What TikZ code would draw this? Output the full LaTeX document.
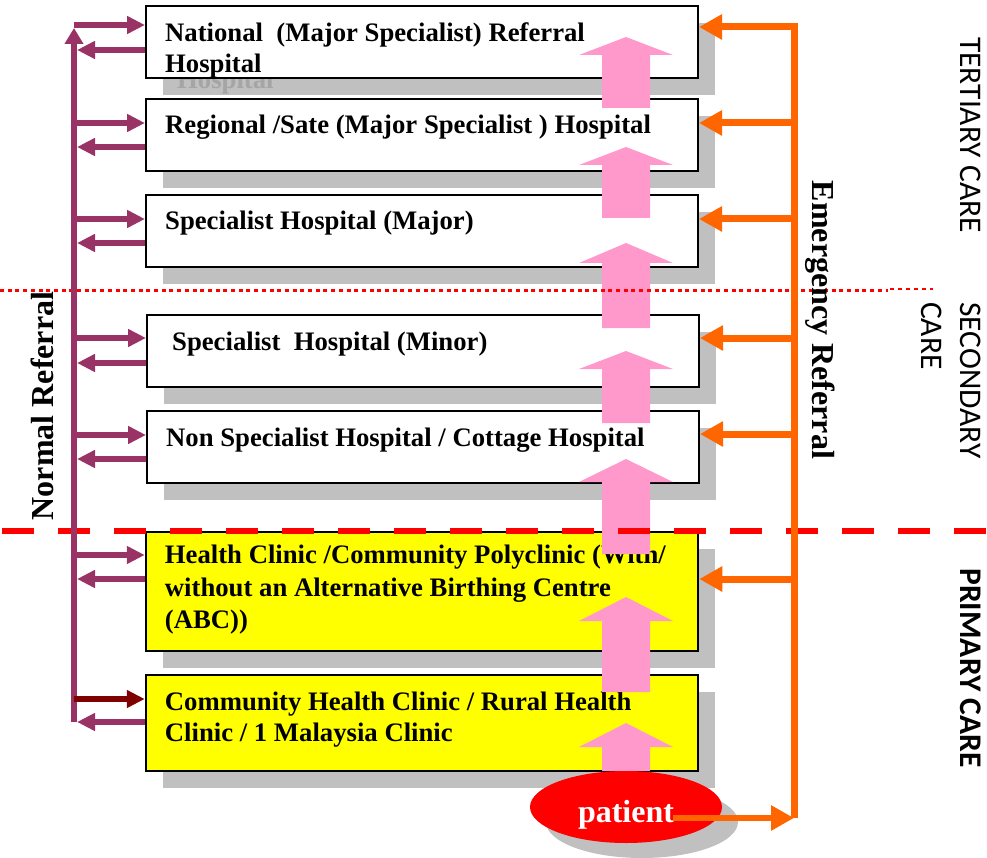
\documentclass[tikz,border=0pt]{standalone}
\usepackage{fontspec}
\setmainfont{Liberation Serif}
\newfontfamily\carefont{Carlito}
\usetikzlibrary{arrows.meta,shapes.geometric,shadows}
\definecolor{nrefcol}{RGB}{153,51,102}
\definecolor{darkref}{RGB}{128,0,0}
\definecolor{erefcol}{RGB}{255,102,0}
\definecolor{pinkup}{RGB}{255,153,204}
\definecolor{shadowgray}{RGB}{192,192,192}
\definecolor{ghostgray}{RGB}{165,165,165}
\definecolor{primyellow}{RGB}{255,255,0}
\begin{document}
\begin{tikzpicture}[x=1pt,y=-1pt,
	level/.style={draw=black,line width=2pt,minimum width=552pt,minimum height=72pt,inner sep=0pt,fill=white,
		drop shadow={shadow xshift=17pt,shadow yshift=-17pt,fill=shadowgray,opacity=1}},
	primary/.style={level,fill=primyellow,line width=2.5pt},
	lbl/.style={anchor=base west,align=left,inner sep=0pt,font=\fontsize{26.7}{31.5}\selectfont\bfseries},
	nref/.style={draw=nrefcol,line width=6pt},
	eref/.style={draw=erefcol,line width=7pt},
	ntip/.style={-{Triangle[length=18pt,width=17pt]}},
	etip/.style={-{Triangle[length=23pt,width=24pt]}},
	refl/.style={inner sep=0pt,font=\fontsize{32}{38}\selectfont\bfseries},
	side/.style={inner sep=0pt,font=\carefont\fontsize{31.5}{39}\selectfont}]
	\useasboundingbox (0,0) rectangle (987,858);
	% levels of care
	\node[level] (nat) at (422,42) {};
	\node[level] (reg) at (422,135) {};
	\node[level] (spj) at (422,231) {};
	\node[level] (spn) at (423,351) {};
	\node[level] (nsh) at (423,447) {};
	\node[primary,minimum height=119pt] (hc) at (422,591.5) {};
	\node[primary,minimum height=96pt] (chc) at (422,723) {};
	\begin{scope}
		\clip ([yshift=-1pt]nat.south west) rectangle ([yshift=-20pt]nat.south east);
		\node[lbl,text=ghostgray] (natg) at ([xshift=32pt,yshift=-84pt]nat.north west) {Hospital};
	\end{scope}
	% (base of a multi-line label = its last line)
	\node[lbl] (natl) at ([xshift=20pt,yshift=-68pt]nat.north west) {National\ \ (Major Specialist) Referral\\Hospital};
	\node[lbl] (regl) at ([xshift=20pt,yshift=-36pt]reg.north west) {Regional /Sate (Major Specialist ) Hospital};
	\node[lbl] (spjl) at ([xshift=20pt,yshift=-36pt]spj.north west) {Specialist Hospital (Major)};
	\node[lbl] (spnl) at ([xshift=26pt,yshift=-36pt]spn.north west) {Specialist\ \ Hospital (Minor)};
	\node[lbl] (nshl) at ([xshift=20pt,yshift=-36pt]nsh.north west) {Non Specialist Hospital / Cottage Hospital};
	\node[lbl,font=\fontsize{26.7}{32.5}\selectfont\bfseries] (hcl) at ([xshift=20pt,yshift=-98pt]hc.north west) {Health Clinic /Community Polyclinic (With/\\without an Alternative Birthing Centre\\(ABC))};
	\node[lbl] (chcl) at ([xshift=20pt,yshift=-68pt]chc.north west) {Community Health Clinic / Rural Health\\Clinic / 1 Malaysia Clinic};
	% patient flow upwards
	\foreach \t/\h/\b in {37/18/108,147/18/218,243/20/328,351/18/423,459/23/554,597/24/692,723/24/771}
		\fill[pinkup] (626,\t) -- (673,\t+\h) -- (650,\t+\h) -- (650,\b) -- (602,\b) -- (602,\t+\h) -- (579,\t+\h) -- cycle;
	\node[ellipse,fill=red,minimum width=192pt,minimum height=72pt,inner sep=0pt,
		drop shadow={shadow xshift=16pt,shadow yshift=-15pt,fill=shadowgray,opacity=1}] (pat) at (626,807) {};
	\node[refl,text=white,anchor=base] (patl) at ([yshift=-15pt]pat.center) {patient};
	% dividers
	\draw[red,line width=3pt,dash pattern=on 4pt off 3.7pt] (0,291) -- (888,291);
	\draw[red,line width=1.2pt,dash pattern=on 4pt off 4pt] (890,289) -- (933,289);
	\draw[red,line width=6.5pt,dash pattern=on 32pt off 24pt] (2,531) -- (987,531);
	% normal referral
	\coordinate (ntop) at (74,28);
	\coordinate (nbot) at (74,722);
	\coordinate (nin) at (77,28);
	\draw[nref,-{Triangle[length=16pt,width=18pt]}] (nbot) -- (ntop);
	\foreach \b/\ya/\yb in {nat/25/50,reg/123/147,spj/219/243,spn/338/363,nsh/435/459,hc/555/579}{
		\draw[nref,ntip] (ntop |- 0,\ya) -- (\b.west |- 0,\ya);
		\draw[nref,ntip] (\b.west |- 0,\yb) -- (nin |- 0,\yb);
	}
	\draw[nref,draw=darkref,ntip] (ntop |- 0,699) -- (chc.west |- 0,699);
	\draw[nref,ntip] (chc.west |- 0,722) -- (nin |- 0,722);
	\node[refl,rotate=90,anchor=base] (nrl) at (53,406) {Normal Referral};
	% emergency referral
	\coordinate (etop) at (794,27);
	\coordinate (ebot) at (794,818);
	\draw[eref,etip] (ebot) -- (etop) -- (nat.east |- etop);
	\foreach \b/\y in {reg/123,spj/219,spn/338,nsh/434,hc/579}
		\draw[eref,etip] (etop |- 0,\y) -- (\b.east |- 0,\y);
	\draw[eref,etip,line width=6pt] ([xshift=47pt,yshift=-11pt]pat.center) -- (ebot);
	\node[refl,rotate=-90,anchor=base] (erl) at (812,320) {Emergency Referral};
	% care levels
	\node[side,rotate=-90,anchor=base] (ter) at (960,135) {TERTIARY CARE};
	\node[side,rotate=-90,anchor=base west,align=left] (sec) at (921,302) {SECONDARY\\CARE};
	\node[side,font=\carefont\fontsize{31.5}{39}\selectfont\bfseries,rotate=-90,anchor=base] (pri) at (960,668) {PRIMARY CARE};
\end{tikzpicture}
\end{document}
